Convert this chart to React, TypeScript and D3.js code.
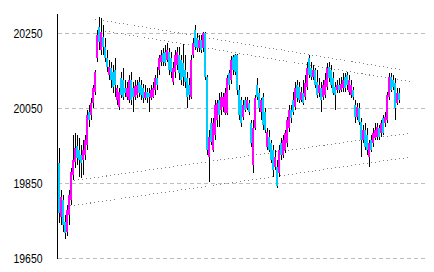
import React from 'react';
import * as d3 from 'd3';

const W = 434;
const H = 272;

// Y axis tick labels
const yTicks = [19650, 19850, 20050, 20250];

// Candle data (open / high / low / close)
const open = [
  19904, 19760, 19806, 19747, 19720, 19766, 19806, 19872, 19907, 19950,
  19939, 19926, 19912, 19926, 19952, 20040, 20032, 20064, 20094, 20184,
  20267, 20206, 20240, 20214, 20184, 20139, 20158, 20147, 20152, 20072,
  20054, 20131, 20126, 20104, 20080, 20072, 20126, 20104, 20080, 20086,
  20120, 20112, 20104, 20078, 20094, 20091, 20078, 20080, 20099, 20131,
  20152, 20174, 20198, 20200, 20179, 20200, 20184, 20120, 20147, 20166,
  20192, 20179, 20171, 20152, 20131, 20112, 20080, 20192, 20259, 20238,
  20211, 20232, 20211, 20251, 20134, 19920, 20011, 19939, 19979, 20019,
  20072, 20046, 20054, 20038, 20038, 20144, 20126, 20187, 20192, 20192,
  20099, 20072, 20027, 20072, 20051, 20064, 20011, 19899, 19998, 20112,
  20091, 20040, 20080, 20040, 19947, 19974, 19958, 19939, 19894, 19894,
  19878, 19958, 19926, 19939, 19958, 19998, 20046, 20072, 20054, 20112,
  20107, 20072, 20091, 20080, 20107, 20184, 20158, 20134, 20152, 20120,
  20091, 20104, 20080, 20086, 20107, 20160, 20152, 20131, 20107, 20099,
  20112, 20099, 20104, 20134, 20139, 20094, 20086, 20099, 20059, 20027,
  20051, 20014, 19966, 19992, 19979, 19920, 19966, 19958, 19971, 19974,
  19998, 19984, 20024, 20011, 20019, 20080, 20134, 20126, 20118, 20064, 20091,
];
const high = [
  19944, 19832, 19819, 19766, 19792, 19832, 19891, 19979, 19984, 19979,
  19971, 19952, 19966, 19979, 20046, 20059, 20078, 20112, 20152, 20259,
  20294, 20291, 20272, 20238, 20206, 20179, 20174, 20166, 20184, 20112,
  20104, 20147, 20158, 20126, 20120, 20139, 20147, 20120, 20126, 20126,
  20134, 20126, 20115, 20112, 20104, 20104, 20112, 20120, 20139, 20160,
  20192, 20206, 20211, 20219, 20224, 20211, 20200, 20174, 20206, 20214,
  20214, 20192, 20222, 20192, 20147, 20131, 20192, 20238, 20272, 20251,
  20246, 20246, 20254, 20254, 20139, 19992, 20024, 20024, 20072, 20072,
  20091, 20094, 20091, 20104, 20139, 20152, 20190, 20192, 20195, 20195,
  20112, 20080, 20072, 20080, 20080, 20072, 20019, 20019, 20086, 20131,
  20104, 20078, 20091, 20051, 19998, 19992, 19966, 19952, 19939, 19912,
  19952, 19971, 19979, 19992, 20027, 20059, 20059, 20094, 20120, 20126,
  20120, 20107, 20126, 20139, 20174, 20192, 20174, 20166, 20158, 20152,
  20131, 20120, 20126, 20144, 20171, 20174, 20166, 20147, 20120, 20126,
  20131, 20134, 20144, 20144, 20147, 20139, 20126, 20107, 20072, 20064,
  20064, 20024, 20006, 20011, 19998, 19966, 19979, 19998, 20011, 20011,
  20006, 20019, 20032, 20040, 20094, 20144, 20144, 20139, 20131, 20104, 20104,
];
const low = [
  19744, 19739, 19720, 19702, 19710, 19739, 19792, 19859, 19891, 19899,
  19867, 19864, 19872, 19912, 19939, 20000, 20019, 20051, 20086, 20174,
  20206, 20192, 20192, 20174, 20147, 20126, 20104, 20091, 20080, 20059,
  20046, 20078, 20072, 20080, 20072, 20064, 20059, 20040, 20072, 20078,
  20080, 20072, 20064, 20072, 20064, 20040, 20072, 20078, 20086, 20099,
  20139, 20163, 20163, 20163, 20174, 20139, 20131, 20112, 20131, 20152,
  20126, 20112, 20110, 20104, 20051, 20072, 20075, 20184, 20206, 20200,
  20200, 20198, 20200, 20126, 19926, 19854, 19952, 19934, 19966, 20000,
  20000, 20032, 20040, 20032, 20032, 20099, 20115, 20139, 20139, 20086,
  20019, 20000, 20019, 20040, 20046, 20032, 19947, 19878, 19992, 20072,
  20040, 20019, 19992, 19984, 19939, 19934, 19904, 19867, 19886, 19838,
  19867, 19912, 19918, 19931, 19947, 19987, 20011, 20032, 20046, 20067,
  20064, 20067, 20059, 20072, 20099, 20131, 20126, 20126, 20104, 20078,
  20080, 20040, 20072, 20078, 20099, 20120, 20104, 20086, 20046, 20091,
  20091, 20094, 20094, 20094, 20099, 20086, 20078, 20072, 20011, 20019,
  20006, 19920, 19958, 19939, 19926, 19894, 19934, 19947, 19966, 19966,
  19966, 19974, 19979, 20000, 20011, 20072, 20094, 20099, 20019, 20059, 20064,
];
const close = [
  19771, 19814, 19739, 19718, 19779, 19819, 19880, 19912, 19944, 19918,
  19912, 19904, 19939, 19966, 20032, 20019, 20064, 20104, 20147, 20246,
  20227, 20254, 20214, 20184, 20160, 20160, 20126, 20107, 20112, 20104,
  20094, 20086, 20080, 20091, 20104, 20126, 20072, 20080, 20110, 20112,
  20091, 20086, 20078, 20094, 20078, 20080, 20099, 20104, 20131, 20112,
  20184, 20192, 20174, 20171, 20206, 20152, 20147, 20158, 20192, 20200,
  20144, 20126, 20134, 20120, 20080, 20086, 20179, 20224, 20214, 20211,
  20232, 20206, 20251, 20134, 19939, 19974, 19960, 20011, 20059, 20064,
  20032, 20080, 20080, 20091, 20131, 20112, 20179, 20152, 20147, 20099,
  20032, 20011, 20059, 20046, 20072, 20040, 19958, 19998, 20078, 20080,
  20051, 20072, 20006, 19992, 19987, 19939, 19912, 19886, 19920, 19843,
  19939, 19926, 19966, 19984, 20019, 20046, 20024, 20040, 20104, 20078,
  20072, 20094, 20064, 20118, 20158, 20139, 20134, 20152, 20112, 20086,
  20112, 20072, 20112, 20126, 20158, 20131, 20112, 20091, 20086, 20112,
  20099, 20115, 20126, 20104, 20112, 20126, 20112, 20080, 20027, 20054,
  20014, 19966, 19992, 19947, 19939, 19958, 19939, 19984, 19992, 20000,
  19974, 20011, 19984, 20027, 20086, 20134, 20099, 20107, 20051, 20091, 20072,
];

// Trend lines: start / end (candle index, price)
const trendX1 = [18, 23, 5.5, 5.5];
const trendP1 = [20288, 20256, 19856, 19790];
const trendX2 = [171.5, 176.5, 175.5, 175.5];
const trendP2 = [20152, 20120, 19984, 19920];

const UP = '#ff00ff';
const DOWN = '#00ccff';

export default function App() {
  const n = open.length;
  const x = d3.scaleLinear().domain([0, n - 1]).range([59, 59 + 2 * (n - 1)]);
  const y = d3.scaleLinear().domain([19650, 20300]).range([258.5, 14.5]);
  const axisX = 57.5;
  const gridRight = 427;
  const py = (v: number) => Math.floor(y(v)) + 0.5;

  return (
    <svg
      width={W}
      height={H}
      style={{ position: 'fixed', left: 0, top: 0, background: '#fff' }}
      shapeRendering="crispEdges"
    >
      <rect x={0} y={0} width={W} height={H} fill="#fff" />
      {/* gridlines */}
      {yTicks.map((t) => (
        <line
          key={'g' + t}
          x1={axisX}
          x2={gridRight}
          y1={py(t)}
          y2={py(t)}
          stroke="#bdbdbd"
          strokeWidth={1}
          strokeDasharray="4,3"
        />
      ))}
      {/* tick labels */}
      {yTicks.map((t) => (
        <text
          key={'t' + t}
          x={42.5}
          y={py(t) + 4.5}
          textAnchor="end"
          fontFamily="'Liberation Sans', Arial, sans-serif"
          fontSize={12}
          textLength={29}
          lengthAdjust="spacingAndGlyphs"
          fill="#000"
        >
          {t}
        </text>
      ))}
      {/* trend lines */}
      {trendX1.map((_, k) => (
        <line
          key={'tr' + k}
          x1={x(trendX1[k])}
          y1={y(trendP1[k])}
          x2={x(trendX2[k])}
          y2={y(trendP2[k])}
          stroke="#808080"
          strokeWidth={1}
          strokeDasharray="1,3"
        />
      ))}
      {/* candles */}
      {open.map((o, i) => {
        const c = close[i];
        const cx = x(i);
        const top = Math.round(y(Math.max(o, c)));
        const bot = Math.round(y(Math.min(o, c)));
        return (
          <g key={'c' + i}>
            <line
              x1={cx + 0.5}
              x2={cx + 0.5}
              y1={Math.round(y(high[i]))}
              y2={Math.round(y(low[i]))}
              stroke="#000"
              strokeWidth={1}
            />
            <rect
              x={cx - 1}
              y={top}
              width={2}
              height={Math.max(2, bot - top)}
              fill={c >= o ? UP : DOWN}
            />
          </g>
        );
      })}
      {/* axis line */}
      <line x1={axisX} x2={axisX} y1={14} y2={258.5} stroke="#000" strokeWidth={1} />
    </svg>
  );
}
